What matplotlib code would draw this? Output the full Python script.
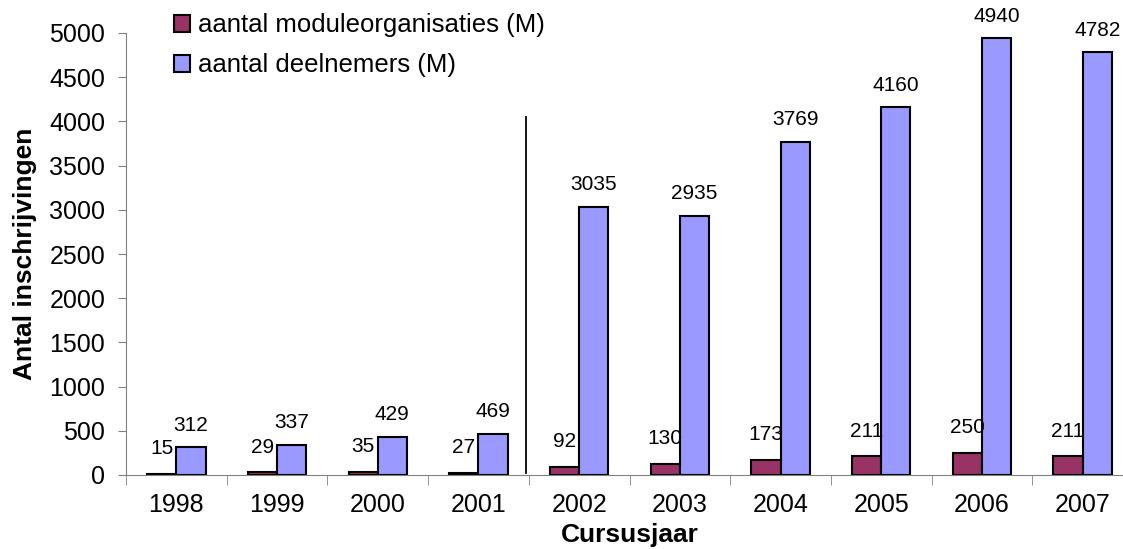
import matplotlib
matplotlib.use("Agg")
import matplotlib.pyplot as plt
import numpy as np

plt.rcParams['font.family'] = ['Liberation Sans', 'DejaVu Sans']

jaren = ['1998', '1999', '2000', '2001', '2002', '2003', '2004', '2005', '2006', '2007']
modules = [15, 29, 35, 27, 92, 130, 173, 211, 250, 211]
deelnemers = [312, 337, 429, 469, 3035, 2935, 3769, 4160, 4940, 4782]

fig = plt.figure(figsize=(11.23, 5.49), dpi=100)
ax = fig.add_axes([126/1123, 1-475/549, 1007/1123, 442/549])

x = np.arange(len(jaren))
w = 0.29
ax.bar(x - w/2, modules, w, color='#993366', edgecolor='black', linewidth=1.5,
       label='aantal moduleorganisaties (M)')
ax.bar(x + w/2, deelnemers, w, color='#9999FF', edgecolor='black', linewidth=1.5,
       label='aantal deelnemers (M)')

for xi, v in zip(x - w/2, modules):
    ax.annotate(str(v), (xi, v), xytext=(0, 18), textcoords='offset points',
                ha='center', va='center', fontsize=15)
for xi, v in zip(x + w/2, deelnemers):
    ax.annotate(str(v), (xi, v), xytext=(0, 16), textcoords='offset points',
                ha='center', va='center', fontsize=15)

# scheidingslijn tussen 2001 en 2002
ax.plot([3.47, 3.47], [25, 4050], color='black', linewidth=1.3)

ax.set_xlim(-0.5, 9.5)
ax.set_ylim(0, 5000)
ax.set_yticks(range(0, 5001, 500))
ax.set_xticks(x)
ax.set_xticklabels(jaren, fontsize=18)
ax.set_xticks(np.arange(-0.5, 9.6, 1), minor=True)
ax.tick_params(axis='x', which='major', length=0, pad=13)
ax.tick_params(axis='x', which='minor', length=7, color='#808080', direction='out')
ax.tick_params(axis='y', labelsize=18, length=6, color='#808080', pad=9)

for s in ['top', 'right']:
    ax.spines[s].set_visible(False)
for s in ['left', 'bottom']:
    ax.spines[s].set_color('#808080')

ax.set_xlabel('Cursusjaar', fontsize=19, fontweight='bold', labelpad=4)
ax.set_ylabel('Antal inschrijvingen', fontsize=19, fontweight='bold', labelpad=9)

ax.legend(loc='upper left', bbox_to_anchor=(0.037, 1.068), frameon=False, fontsize=18.5,
          handlelength=0.65, handleheight=0.65, handletextpad=0.3, labelspacing=0.62,
          borderaxespad=0)

fig.savefig('out.png', dpi=100)
